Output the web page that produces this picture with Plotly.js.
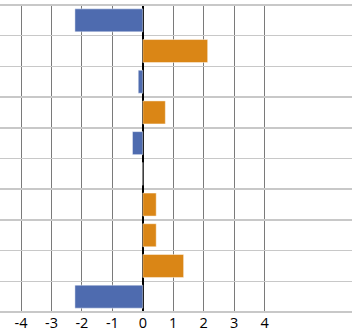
<!DOCTYPE html>
<html>
<head>
<meta charset="utf-8">
<script src="https://cdn.plot.ly/plotly-3.0.1.min.js"></script>
<style>html,body{margin:0;padding:0;background:#fff;}#chart{width:352px;height:333px;}</style>
</head>
<body>
<div id="chart"></div>
<script>
const categories = ["A", "B", "C", "D", "E", "F", "G", "H", "I", "J"];
const values = [-2.23, 2.13, -0.15, 0.74, -0.34, 0, 0.44, 0.44, 1.34, -2.23];
const tickValues = [-4, -3, -2, -1, 0, 1, 2, 3, 4];
const tickLabels = ["-4", "-3", "-2", "-1", "0", "1", "2", "3", "4"];

const colors = values.map(v => v < 0 ? "#4E6BAF" : "#DA8616");

const trace = {
  type: "bar",
  orientation: "h",
  x: values,
  y: categories,
  marker: { color: colors, line: { color: "rgba(255,255,255,0.45)", width: 1 } },
  hoverinfo: "none"
};

const layout = {
  width: 352, height: 333,
  margin: { l: 0, r: 0, t: 5, b: 21, pad: 0 },
  paper_bgcolor: "#fff", plot_bgcolor: "#fff",
  showlegend: false,
  bargap: 0.25,
  font: { family: "Open Sans", size: 14, color: "#000" },
  xaxis: {
    range: [-4.69, 6.87],
    tickmode: "array", tickvals: tickValues, ticktext: tickLabels,
    showgrid: true, gridcolor: "#7a7a7a", gridwidth: 1,
    zeroline: true, zerolinecolor: "#000", zerolinewidth: 2,
    showline: false, ticks: "",
    ticklabelstandoff: 0,
    tickfont: { family: "Open Sans", size: 14.5, color: "#000" },
    automargin: false, fixedrange: true
  },
  yaxis: {
    type: "category",
    autorange: "reversed",
    tickson: "boundaries",
    showticklabels: false, ticks: "",
    showgrid: true, gridcolor: "#c8c8c8", gridwidth: 1.5,
    showline: false, zeroline: false,
    automargin: false, fixedrange: true
  },
  shapes: [{
    type: "line", xref: "paper", yref: "paper", x0: 0, x1: 1, y0: 0, y1: 0,
    line: { color: "#c8c8c8", width: 2 }
  }, {
    type: "line", xref: "paper", yref: "paper", x0: 0, x1: 1, y0: 1, y1: 1,
    line: { color: "#c8c8c8", width: 2 }
  }]
};

Plotly.newPlot("chart", [trace], layout, { staticPlot: true, displayModeBar: false });
</script>
</body>
</html>
